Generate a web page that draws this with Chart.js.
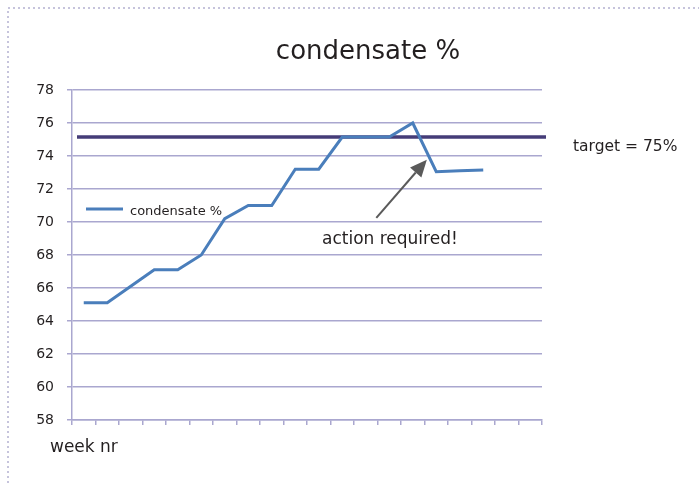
<!DOCTYPE html>
<html>
<head>
<meta charset="utf-8">
<script src="https://cdn.jsdelivr.net/npm/chart.js@4"></script>
<style>
  html, body { margin: 0; padding: 0; background: #fff; }
  #wrap { width: 699px; height: 483px; }
</style>
</head>
<body>
<div id="wrap"><canvas id="condensateChart" width="699" height="483"></canvas></div>
<script>
// week numbers (tick labels are not printed on the x axis)
const weeks = [1, 2, 3, 4, 5, 6, 7, 8, 9, 10, 11, 12, 13, 14, 15, 16, 17, 18, 19, 20];
const condensate = [65.1, 65.1, 66.1, 67.1, 67.1, 68.0, 70.2, 71.0, 71.0, 73.2,
                    73.2, 75.15, 75.15, 75.15, 76.0, 73.05, 73.1, 73.15, null, null];
const targetValue = 75.15;
const yMin = 58, yMax = 78, yStep = 2;

const titleText = 'condensate %';
const seriesName = 'condensate %';
const targetText = 'target = 75%';
const actionText = 'action required!';
const xTitle = 'week nr';

const FONT = "'DejaVu Sans', sans-serif";
const TEXT = '#231f20';
const GRID = '#aaa7cf';
const BLUE = '#4a7ebb';
const NAVY = '#453c78';

const extras = {
  id: 'extras',
  beforeDraw(chart) {
    const c = chart.ctx;
    c.save();
    c.strokeStyle = '#c6c4dc';
    c.lineWidth = 2;
    c.setLineDash([2, 3]);
    c.beginPath();
    c.moveTo(8, chart.height);
    c.lineTo(8, 8);
    c.lineTo(chart.width, 8);
    c.stroke();
    c.restore();
  },
  beforeDatasetsDraw(chart) {
    const c = chart.ctx, a = chart.chartArea;
    const y = chart.scales.y.getPixelForValue(targetValue);
    c.save();
    c.strokeStyle = NAVY;
    c.lineWidth = 3.5;
    c.beginPath();
    c.moveTo(a.left + 5, y);
    c.lineTo(a.right + 4, y);
    c.stroke();
    c.restore();
  },
  afterDraw(chart) {
    const c = chart.ctx, a = chart.chartArea;
    const xs = chart.scales.x, ys = chart.scales.y;
    c.save();
    c.fillStyle = TEXT;
    c.textBaseline = 'middle';

    // title
    c.font = '26px ' + FONT;
    c.textAlign = 'center';
    c.fillText(titleText, 368, 52);

    // target label
    c.font = '15.5px ' + FONT;
    c.textAlign = 'left';
    c.fillText(targetText, a.right + 31, ys.getPixelForValue(targetValue) + 10);

    // action label
    c.font = '17px ' + FONT;
    c.fillText(actionText, a.left + 250, 240);

    // x axis title
    c.font = '17px ' + FONT;
    c.fillText(xTitle, 50, 448);

    // legend inside plot
    c.strokeStyle = BLUE;
    c.lineWidth = 3;
    c.beginPath();
    c.moveTo(a.left + 14, 209);
    c.lineTo(a.left + 51, 209);
    c.stroke();
    c.font = '13px ' + FONT;
    c.fillText(seriesName, a.left + 58, 212);

    // arrow
    const x0 = xs.getPixelForValue(12.45), y0 = ys.getPixelForValue(70.25);
    const x1 = xs.getPixelForValue(14.6), y1 = ys.getPixelForValue(73.78);
    const ang = Math.atan2(y1 - y0, x1 - x0);
    const hl = 17, hw = 7.5;
    const bx = x1 - hl * Math.cos(ang), by = y1 - hl * Math.sin(ang);
    c.strokeStyle = '#5a5a5a';
    c.fillStyle = '#5a5a5a';
    c.lineWidth = 2;
    c.beginPath();
    c.moveTo(x0, y0);
    c.lineTo(bx, by);
    c.stroke();
    c.beginPath();
    c.moveTo(x1, y1);
    c.lineTo(bx + hw * Math.sin(ang), by - hw * Math.cos(ang));
    c.lineTo(bx - hw * Math.sin(ang), by + hw * Math.cos(ang));
    c.closePath();
    c.fill();
    c.restore();
  }
};

new Chart(document.getElementById('condensateChart').getContext('2d'), {
  type: 'line',
  data: {
    labels: weeks,
    datasets: [{
      label: seriesName,
      data: condensate,
      borderColor: BLUE,
      borderWidth: 3,
      pointRadius: 0,
      tension: 0,
      spanGaps: false
    }]
  },
  options: {
    responsive: false,
    animation: false,
    layout: { padding: { top: 90, right: 157, bottom: 58, left: 0 } },
    plugins: {
      legend: { display: false },
      title: { display: false },
      tooltip: { enabled: false }
    },
    scales: {
      x: {
        type: 'category',
        offset: true,
        grid: { offset: true, drawOnChartArea: false, color: GRID, tickLength: 5, lineWidth: 1.5 },
        border: { color: GRID, width: 1.5 },
        ticks: { display: false }
      },
      y: {
        min: yMin,
        max: yMax,
        afterFit(scale) { scale.width = 72; },
        grid: { color: GRID, tickLength: 5, lineWidth: 1.5 },
        border: { color: GRID, width: 1.5 },
        ticks: {
          stepSize: yStep,
          padding: 13,
          color: TEXT,
          font: { family: FONT, size: 14 }
        }
      }
    }
  },
  plugins: [extras]
});
</script>
</body>
</html>
